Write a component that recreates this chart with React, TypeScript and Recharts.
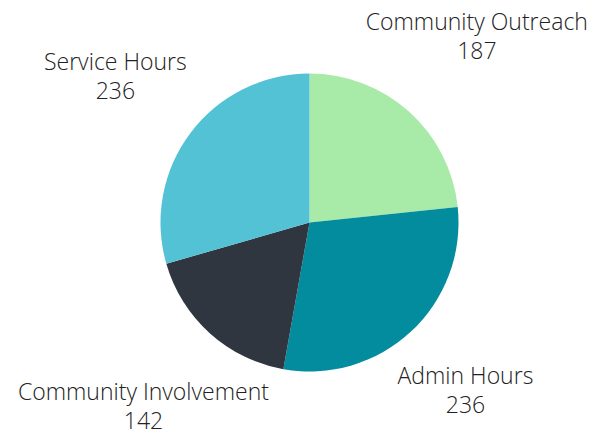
import React from "react";
import { PieChart, Pie, Cell } from "recharts";

// ── Data ───────────────────────────────────────────────────────────────────────
const CATEGORIES = ["Community Outreach", "Admin Hours", "Community Involvement", "Service Hours"];
const VALUES = [187, 236, 142, 236];
const COLORS = ["#a8eaa8", "#038c9e", "#2f3640", "#52c2d4"];

// distance of each label's centre from the pie centre
const LABEL_RADII = [250, 229, 248, 243];

const data = CATEGORIES.map((name, i) => ({ name, value: VALUES[i] }));

const RADIAN = Math.PI / 180;

// ── Two-line label outside the slice ───────────────────────────────────────────
const renderLabel = (props: any) => {
    const { cx, cy, midAngle, name, value, index } = props;
    const r = LABEL_RADII[index] ?? 245;
    const x = cx + r * Math.cos(-midAngle * RADIAN);
    const y = cy + r * Math.sin(-midAngle * RADIAN);
    return (
        <text
            x={x}
            y={y}
            textAnchor="middle"
            fill="#222"
            fontFamily="'Open Sans', sans-serif"
            fontWeight={300}
            fontSize={23}
        >
            <tspan x={x} dy={-6.5}>{name}</tspan>
            <tspan x={x} dy={29}>{value}</tspan>
        </text>
    );
};

export default function App() {
    return (
        <div style={{ position: "absolute", left: 0, top: 0, background: "#fff" }}>
            <PieChart width={589} height={432} margin={{ top: 0, right: 0, bottom: 0, left: 0 }}>
                <Pie
                    data={data}
                    dataKey="value"
                    nameKey="name"
                    cx={309.5}
                    cy={222.5}
                    outerRadius={149}
                    startAngle={90}
                    endAngle={-270}
                    stroke="none"
                    label={renderLabel}
                    labelLine={false}
                    isAnimationActive={false}
                >
                    {data.map((d, i) => (
                        <Cell key={d.name} fill={COLORS[i]} />
                    ))}
                </Pie>
            </PieChart>
        </div>
    );
}
